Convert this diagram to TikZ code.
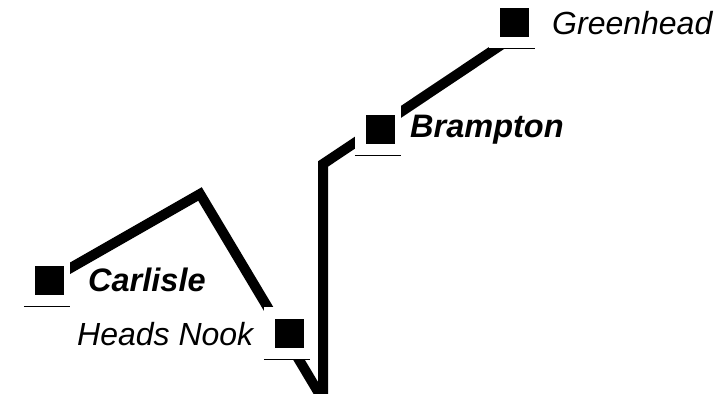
\documentclass[tikz,border=0pt]{standalone}
\usepackage{fontspec}
\setmainfont{Liberation Sans}
\usetikzlibrary{positioning}
\tikzset{
  track/.style={line width=10pt, black, line join=miter},
  stationbox/.style={fill=white, minimum width=46pt, minimum height=52pt, inner sep=0pt},
  stationsq/.style={fill=black, minimum size=29pt, inner sep=0pt},
  underline/.style={line width=0.9pt},
  placename/.style={anchor=base west, inner sep=0pt, font=\fontsize{32}{38}\selectfont\itshape},
  boldname/.style={placename, font=\fontsize{32.5}{38}\selectfont\bfseries\itshape},
}

\begin{document}
\begin{tikzpicture}[x=1pt, y=-1pt]
  \useasboundingbox (0,0) rectangle (724,394);
  \clip (0,0) rectangle (724,394);
  % bends of the line
  \coordinate (peak) at (200,194);
  \coordinate (dip) at (323,400);
  \coordinate (bend) at (323,164);
  \coordinate (lineend) at (514.5,36);
  % stations
  \coordinate (carlisle) at (49.5,280);
  \coordinate (headsnook) at (289.5,333);
  \coordinate (brampton) at (380.5,129);
  \coordinate (greenhead) at (514.5,22.5);

  \draw[track] (carlisle) -- (peak) -- (dip) -- (bend) -- (lineend);

  \foreach \s in {carlisle, headsnook, brampton, greenhead} {
    \node[stationbox, xshift=-2.5pt] (\s-box) at (\s) {};
    \node[stationsq] (\s-sq) at (\s) {};
    \draw[underline] (\s-box.south west) -- (\s-box.south east);
  }

  \node[placename] (greenhead-name) at (552,34) {Greenhead};
  \node[boldname] (brampton-name) at (410,137) {Brampton};
  \node[boldname] (carlisle-name) at (88,291) {Carlisle};
  \node[placename] (headsnook-name) at (77,345) {Heads Nook};
\end{tikzpicture}
\end{document}
